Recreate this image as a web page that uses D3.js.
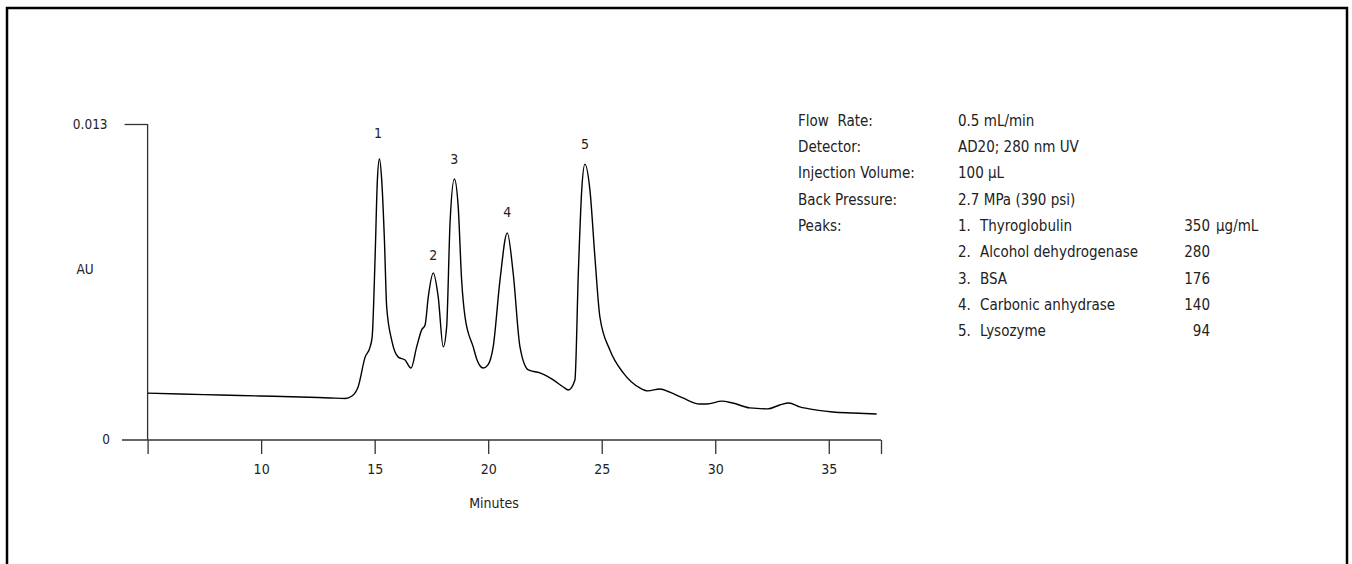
<!DOCTYPE html>
<html>
<head>
<meta charset="utf-8">
<script src="https://cdn.jsdelivr.net/npm/d3@7"></script>
<style>
  body { margin: 0; background: #fff; }
  svg text { font-family: "Liberation Sans Narrow", "Arial Narrow", "DejaVu Sans Condensed", sans-serif; fill: #222; white-space: pre; }
</style>
</head>
<body>
<div id="chart"></div>
<script>
// chromatogram trace (minutes, AU)
const minutes = [5.0, 6.43, 8.2, 9.96, 11.72, 13.04, 13.7, 14.0, 14.27, 14.58, 14.8, 14.89, 15.02, 15.12, 15.21,
  15.31, 15.43, 15.53, 15.75, 16.04, 16.34, 16.6, 16.85, 17.07, 17.22, 17.36, 17.58, 17.8, 18.02, 18.17,
  18.32, 18.51, 18.68, 18.83, 18.98, 19.34, 19.51, 19.78, 19.99, 20.22, 20.52, 20.84, 21.1, 21.4, 21.77,
  22.28, 22.87, 23.31, 23.53, 23.82, 23.97, 24.12, 24.26, 24.48, 24.7, 24.92, 25.36, 25.95, 26.68, 27.03, 27.56,
  28.0, 28.57, 29.32, 29.63, 30.29, 30.77, 31.52, 32.31, 32.84, 33.24, 33.72, 34.47, 35.18, 36.06, 37.11];
const absorbance = [0.00193, 0.00189, 0.00185, 0.00181, 0.00177, 0.00173, 0.00171, 0.00181, 0.00218, 0.00341, 0.00383, 0.00424, 0.00753, 0.0107, 0.01156,
  0.0107, 0.00823, 0.00547, 0.00411, 0.00341, 0.00329, 0.00296, 0.00383, 0.00453, 0.00473, 0.00588, 0.00687, 0.00588, 0.00383, 0.00465,
  0.00893, 0.01074, 0.00959, 0.00658, 0.00506, 0.00383, 0.00329, 0.00296, 0.00309, 0.00383, 0.00658, 0.00852, 0.00687, 0.00383, 0.00288,
  0.00276, 0.00247, 0.00218, 0.00206, 0.00247, 0.00687, 0.01029, 0.01135, 0.01029, 0.00753, 0.00506, 0.0037, 0.00276, 0.00214, 0.00202, 0.0021,
  0.00197, 0.00173, 0.00148, 0.00148, 0.0016, 0.00152, 0.00132, 0.00128, 0.00144, 0.00152, 0.00136, 0.00123, 0.00115, 0.00111, 0.00107];

// peak labels
const peakLabels = ["1", "2", "3", "4", "5"];
const peakTimes = [15.15, 17.58, 18.51, 20.84, 24.26];
const peakHeights = [0.01156, 0.00687, 0.01074, 0.00852, 0.01135];

// axis ticks
const xTicks = [10, 15, 20, 25, 30, 35];
const xDomain = [5, 37.3];
const yDomain = [0, 0.013];

// conditions block
const condLabels = ["Flow  Rate:", "Detector:", "Injection Volume:", "Back Pressure:", "Peaks:"];
const condValues = ["0.5 mL/min", "AD20; 280 nm UV", "100 \u00b5L", "2.7 MPa (390 psi)"];
const peakNames = ["Thyroglobulin", "Alcohol dehydrogenase", "BSA", "Carbonic anhydrase", "Lysozyme"];
const peakConc = [350, 280, 176, 140, 94];
const concUnit = "\u00b5g/mL";

const W = 1352, H = 564;
const svg = d3.select("#chart").append("svg")
    .attr("width", W)
    .attr("height", H);

// outer frame
svg.append("rect")
    .attr("x", 7).attr("y", 8)
    .attr("width", 1340).attr("height", 600)
    .attr("fill", "none")
    .attr("stroke", "#000")
    .attr("stroke-width", 2.5);

const x = d3.scaleLinear().domain(xDomain).range([147.6, 881]);
const y = d3.scaleLinear().domain(yDomain).range([440, 124]);

const axisColor = "#333";

// x axis
const xAxis = svg.append("g")
    .attr("transform", `translate(0, ${y(0)})`)
    .call(d3.axisBottom(x)
        .tickValues([xDomain[0]].concat(xTicks, [xDomain[1]]))
        .tickSize(14)
        .tickPadding(10)
        .tickFormat((d) => xTicks.includes(d) ? d : ""));
xAxis.select(".domain").remove();
xAxis.selectAll("line").attr("stroke", axisColor).attr("stroke-width", 1.3);
xAxis.selectAll("text").style("font-size", "14px").attr("fill", "#222");

svg.append("line")
    .attr("x1", 122).attr("x2", x(xDomain[1]))
    .attr("y1", y(0)).attr("y2", y(0))
    .attr("stroke", axisColor).attr("stroke-width", 1.3);

// y axis
const yAxis = svg.append("g")
    .attr("transform", `translate(${x(xDomain[0])}, 0)`)
    .call(d3.axisLeft(y)
        .tickValues([yDomain[1]])
        .tickSize(23)
        .tickPadding(17)
        .tickFormat(d3.format(".3f")));
yAxis.select(".domain").remove();
yAxis.selectAll("line").attr("stroke", axisColor).attr("stroke-width", 1.3);
yAxis.selectAll("text").style("font-size", "13.5px").attr("fill", "#222");

svg.append("line")
    .attr("x1", x(xDomain[0])).attr("x2", x(xDomain[0]))
    .attr("y1", y(yDomain[1])).attr("y2", y(0))
    .attr("stroke", axisColor).attr("stroke-width", 1.3);

svg.append("text")
    .attr("x", 110).attr("y", y(0))
    .attr("dy", "0.32em")
    .attr("text-anchor", "end")
    .style("font-size", "13.5px")
    .text("0");

svg.append("text")
    .attr("x", 85).attr("y", 270)
    .attr("dy", "0.32em")
    .attr("text-anchor", "middle")
    .style("font-size", "13.5px")
    .text("AU");

svg.append("text")
    .attr("x", 494).attr("y", 504)
    .attr("dy", "0.32em")
    .attr("text-anchor", "middle")
    .style("font-size", "14px")
    .text("Minutes");

// trace
const trace = minutes.map((m, i) => [m, absorbance[i]]);
svg.append("path")
    .datum(trace)
    .attr("fill", "none")
    .attr("stroke", "#000")
    .attr("stroke-width", 1.4)
    .attr("stroke-linejoin", "round")
    .attr("d", d3.line()
        .curve(d3.curveMonotoneX)
        .x((d) => x(d[0]))
        .y((d) => y(d[1])));

// peak numbers, sitting a little above each apex
const labelGap = [21, 13, 15, 16, 15];
svg.selectAll(".peak-label")
    .data(peakLabels)
    .join("text")
    .attr("class", "peak-label")
    .attr("x", (d, i) => x(peakTimes[i]))
    .attr("y", (d, i) => y(peakHeights[i]) - labelGap[i])
    .attr("text-anchor", "middle")
    .style("font-size", "14px")
    .text((d) => d);

// conditions text
const lineH = 26.3, infoTop = 121;
const info = svg.append("g").style("font-size", "15px");
info.selectAll(".cond-label")
    .data(condLabels)
    .join("text")
    .attr("x", 798)
    .attr("y", (d, i) => infoTop + i * lineH)
    .attr("dy", "0.32em")
    .text((d) => d);
info.selectAll(".cond-value")
    .data(condValues)
    .join("text")
    .attr("x", 958)
    .attr("y", (d, i) => infoTop + i * lineH)
    .attr("dy", "0.32em")
    .text((d) => d);
info.selectAll(".peak-num")
    .data(peakNames)
    .join("text")
    .attr("x", 958)
    .attr("y", (d, i) => infoTop + (i + 4) * lineH)
    .attr("dy", "0.32em")
    .text((d, i) => (i + 1) + ".");
info.selectAll(".peak-name")
    .data(peakNames)
    .join("text")
    .attr("x", 980)
    .attr("y", (d, i) => infoTop + (i + 4) * lineH)
    .attr("dy", "0.32em")
    .text((d) => d);
info.selectAll(".peak-conc")
    .data(peakConc)
    .join("text")
    .attr("x", 1210)
    .attr("y", (d, i) => infoTop + (i + 4) * lineH)
    .attr("dy", "0.32em")
    .attr("text-anchor", "end")
    .text((d) => d);
info.append("text")
    .attr("x", 1216)
    .attr("y", infoTop + 4 * lineH)
    .attr("dy", "0.32em")
    .text(concUnit);
</script>
</body>
</html>
